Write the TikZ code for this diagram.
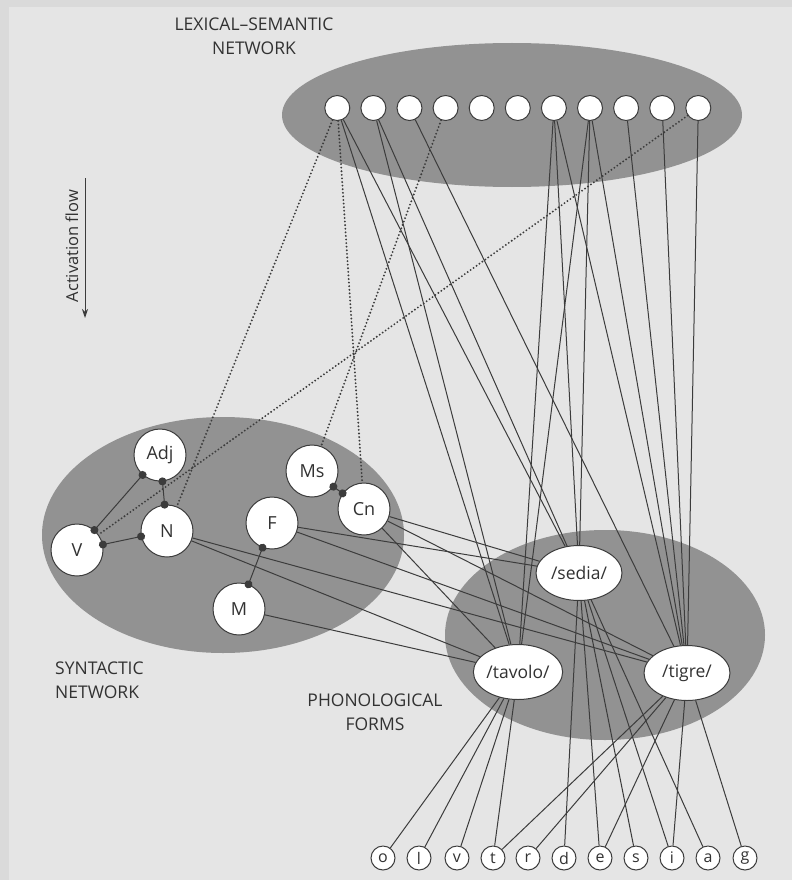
\documentclass[tikz,border=0pt]{standalone}
\usepackage{fontspec}
\setmainfont{Open Sans}
\usetikzlibrary{arrows.meta,shapes.geometric}
\definecolor{bgout}{RGB}{218,218,218}
\definecolor{bg}{RGB}{229,229,229}
\definecolor{blob}{RGB}{146,146,146}
\definecolor{ink}{RGB}{60,60,60}
\definecolor{txt}{RGB}{50,50,50}
\begin{document}
\begin{tikzpicture}[x=1pt,y=-1pt,
  region/.style={ellipse, fill=blob, inner sep=0pt},
  sem/.style={circle, draw=ink, fill=white, line width=1pt, minimum size=25pt, inner sep=0pt},
  syn/.style={circle, draw=ink, fill=white, line width=1pt, minimum size=52pt, inner sep=0pt, font=\fontsize{18}{20}\selectfont, text=txt},
  phon/.style={ellipse, draw=ink, fill=white, line width=1pt, minimum width=86pt, minimum height=55pt, inner sep=0pt, font=\fontsize{17.5}{20}\selectfont, text=txt},
  letter/.style={circle, draw=ink, fill=white, line width=1pt, minimum size=24pt, inner sep=0pt, font=\fontsize{16}{18}\selectfont, text=txt},
  label/.style={font=\fontsize{17.5}{24}\selectfont, text=txt, inner sep=0pt},
  link/.style={draw=ink, line width=1pt},
  dotlink/.style={draw=ink, line width=2.1pt, line cap=round, dash pattern=on 0pt off 3.6pt},
  inhib/.style={link, {Circle[length=8pt]}-{Circle[length=8pt]}, shorten <=-4pt, shorten >=-4pt}
]
\fill[bgout] (0,0) rectangle (792,880);
\fill[bg] (9,7) rectangle (792,880);
\useasboundingbox (0,0) rectangle (792,880);

% regions
\node[region, minimum width=460pt, minimum height=144pt] (lexreg) at (512,115) {};
\node[region, minimum width=362pt, minimum height=236pt] (synreg) at (223,535) {};
\node[region, minimum width=320pt, minimum height=210pt] (phonreg) at (605,635) {};

% labels
\node[label, align=center] (lexlab) at (254,36) {LEXICAL–SEMANTIC\\NETWORK};
\node[label, align=left, anchor=west] (synlab) at (55,680) {SYNTACTIC\\NETWORK};
\node[label, align=center] (phonlab) at (375,712) {PHONOLOGICAL\\FORMS};
\node[font=\fontsize{16.5}{18}\selectfont, text=txt, rotate=90, inner sep=0pt] (aflab) at (72,246) {Activation flow};
\coordinate (af1) at (85,178);
\coordinate (af2) at (85,318);
\draw[ink, line width=1pt, -{Stealth[length=9pt,width=6pt]}] (af1) -- (af2);

% semantic nodes
\foreach \i in {1,...,11} {
  \node[sem] (s\i) at ({337.3+36.1*(\i-1)},108) {};
}

% syntactic nodes
\node[syn] (adj) at (160,455) {Adj};
\node[syn] (v) at (77,550) {V};
\node[syn] (n) at (167,531) {N};
\node[syn] (f) at (272,523) {F};
\node[syn] (m) at (239,609) {M};
\node[syn] (ms) at (312,471) {Ms};
\node[syn] (cn) at (364,509) {Cn};

% phonological forms
\node[phon] (sedia) at (579,573) {/sedia/};
\node[phon] (tavolo) at (518,672) {/tavolo/};
\node[phon] (tigre) at (687,673) {/tigre/};

% letters
\foreach \l/\x in {o/383,l/419,v/457,t/493,r/528,d/564,e/600,s/636,i/672,a/708,g/745} {
  \node[letter] (L\l) at (\x,858) {\l};
}

% inhibitory links
\draw[inhib] (adj) -- (v);
\draw[inhib] (adj) -- (n);
\draw[inhib] (v) -- (n);
\draw[inhib] (f) -- (m);
\draw[inhib] (ms) -- (cn);

% dotted semantic -> syntactic
\draw[dotlink] (s1) -- (n);
\draw[dotlink] (s1) -- (cn);
\draw[dotlink] (s4) -- (ms);
\draw[dotlink] (s11) -- (v);

% semantic -> phonological
\draw[link] (s1) -- (tavolo);
\draw[link] (s1) -- (sedia);
\draw[link] (s2) -- (tavolo);
\draw[link] (s2) -- (sedia);
\draw[link] (s3) -- (tigre);
\foreach \k in {7,8} {
  \draw[link] (s\k) -- (tavolo);
  \draw[link] (s\k) -- (sedia);
  \draw[link] (s\k) -- (tigre);
}
\foreach \k in {9,10,11} {
  \draw[link] (s\k) -- (tigre);
}

% syntactic -> phonological
\draw[link] (n) -- (tavolo);
\draw[link] (n) -- (tigre);
\draw[link] (f) -- (sedia);
\draw[link] (f) -- (tigre);
\draw[link] (m) -- (tavolo);
\draw[link] (cn) -- (sedia);
\draw[link] (cn) -- (tigre);
\draw[link] (cn) -- (tavolo);

% phonological -> letters
\foreach \l in {o,l,v,t} { \draw[link] (tavolo) -- (L\l); }
\foreach \l in {d,e,s,i,a} { \draw[link] (sedia) -- (L\l); }
\foreach \l in {t,r,e,i,g} { \draw[link] (tigre) -- (L\l); }
\end{tikzpicture}
\end{document}
